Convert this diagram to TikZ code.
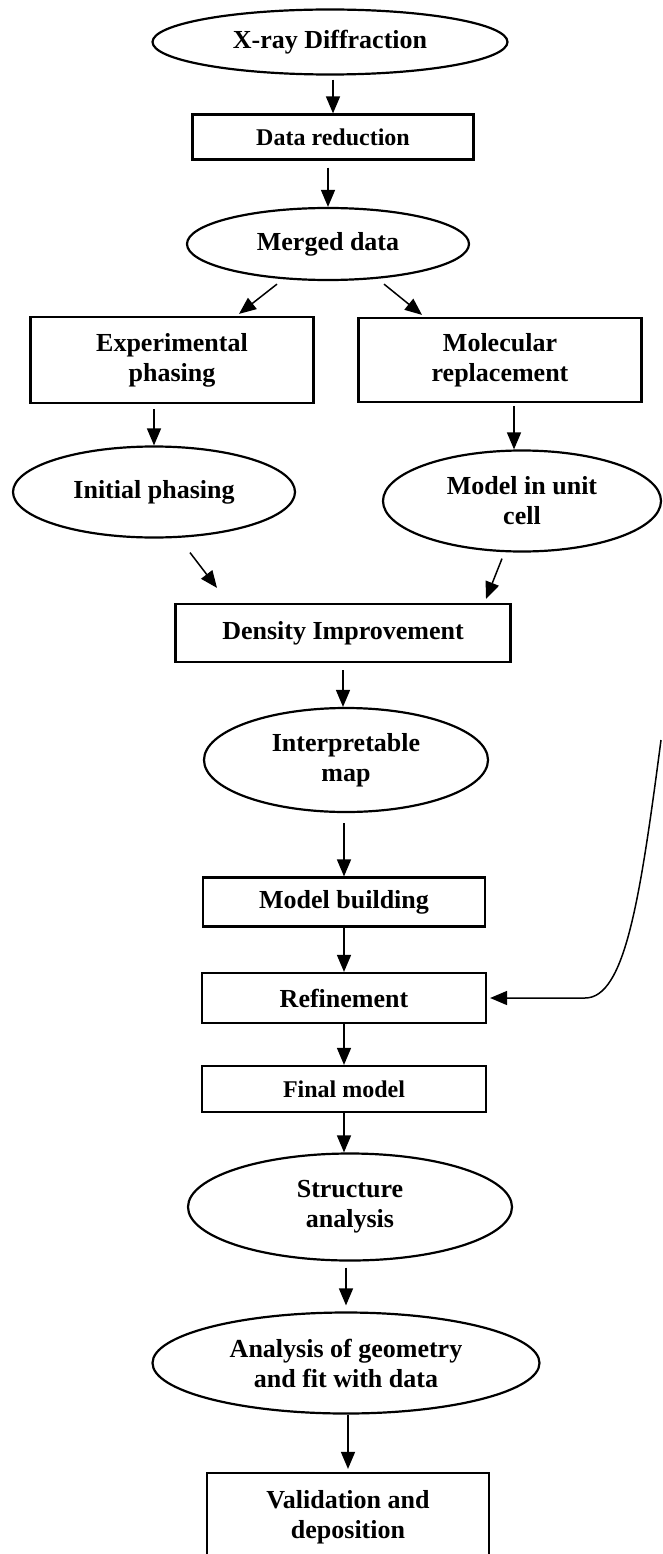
\documentclass[tikz,border=0pt]{standalone}
\usepackage{fontspec}
\setmainfont{Liberation Serif}
\usetikzlibrary{arrows.meta,calc,shapes.geometric}

\begin{document}
\begin{tikzpicture}[x=1pt,y=-1pt,
  every node/.style={font=\bfseries\fontsize{26}{30}\selectfont,align=center,inner sep=0pt},
  oval/.style={draw,ellipse,line width=2.2pt},
  procbox/.style={draw,rectangle,line width=2.2pt},
  small/.style={font=\bfseries\fontsize{24}{28}\selectfont},
  flow/.style={-{Triangle[length=17pt,width=14pt]},line width=1.5pt}]
  \clip (0,0) rectangle (662,1554);
  % stages, top to bottom
  \node[oval,minimum width=355pt,minimum height=65pt] (xray) at (330,42) {X-ray Diffraction};
  \node[procbox,small,minimum width=281pt,minimum height=45pt] (reduce) at (333,137) {Data reduction};
  \node[oval,minimum width=282pt,minimum height=72pt] (merged) at (328,244) {Merged data};
  \node[procbox,minimum width=283pt,minimum height=86pt] (exper) at (172,360) {Experimental\\phasing};
  \node[procbox,minimum width=283pt,minimum height=84pt] (molec) at (500,360) {Molecular\\replacement};
  \node[oval,minimum width=282pt,minimum height=91pt] (init) at (154,492) {Initial phasing};
  \node[oval,minimum width=278pt,minimum height=101pt] (cell) at (522,501) {Model in unit\\cell};
  \node[procbox,minimum width=335pt,minimum height=58pt] (density) at (343,633) {Density Improvement};
  \node[oval,minimum width=284pt,minimum height=104pt] (interp) at (346,760) {Interpretable\\map};
  \node[procbox,minimum width=282pt,minimum height=49pt] (modelb) at (344,902) {Model building};
  \node[procbox,minimum width=284pt,minimum height=50pt] (refine) at (344,998) {Refinement};
  \node[procbox,small,minimum width=284pt,minimum height=46pt] (final) at (344,1089) {Final model};
  \node[oval,minimum width=324pt,minimum height=107pt] (struct) at (350,1207) {Structure\\analysis};
  \node[oval,minimum width=387pt,minimum height=101pt] (analysis) at (346,1363) {Analysis of geometry\\and fit with data};
  \node[procbox,minimum width=282pt,minimum height=88pt] (valid) at (348,1517) {Validation and\\deposition};
  \coordinate (loopstart) at (661,740);

  % connectors
  \draw[flow,shorten <=4pt] (xray.south -| reduce.north) -- (reduce.north);
  \draw[flow,shorten <=7pt] (reduce.south -| merged.north) -- (merged.north);
  \draw[flow] ($(merged.south)+(-51,3)$) -- ($(exper.north)+(67,-2)$);
  \draw[flow] ($(merged.south)+(56,3)$) -- ($(molec.north)+(-78,-2)$);
  \draw[flow,shorten <=5pt] (exper.south -| init.north) -- (init.north);
  \draw[flow,shorten <=3pt] ($(molec.south)+(14,0)$) -- ($(cell.north)+(-8,0)$);
  \draw[flow] ($(init.south)+(36,14)$) -- ($(density.north)+(-126,-15)$);
  \draw[flow] ($(cell.south)+(-20,6)$) -- ($(density.north)+(143,-4)$);
  \draw[flow,shorten <=7pt] (density.south) -- (density.south |- interp.north);
  \draw[flow,shorten <=10pt] (interp.south -| modelb.north) -- (modelb.north);
  \draw[flow] (modelb.south) -- (refine.north);
  \draw[flow] (refine.south) -- (final.north);
  \draw[flow] (final.south) -- (final.south |- struct.north);
  \draw[flow,shorten <=6pt,shorten >=6pt] (struct.south -| analysis.north) -- (analysis.north);
  \draw[flow,shorten >=3pt] (analysis.south -| valid.north) -- (valid.north);
  \draw[flow,shorten >=3pt] (loopstart) .. controls (640,900) and (625,998) .. (585,998) -- (refine.east);
\end{tikzpicture}
\end{document}
